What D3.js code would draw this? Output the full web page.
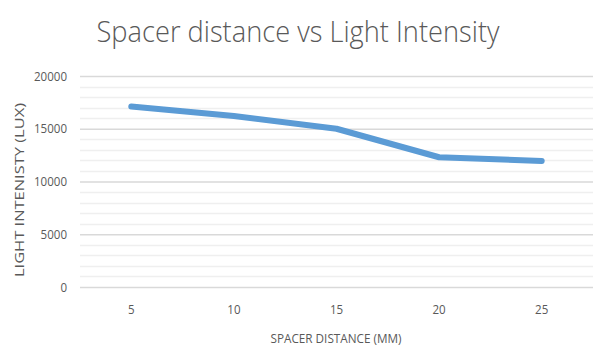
<!DOCTYPE html>
<html>
<head>
<meta charset="utf-8">
<script src="https://cdn.jsdelivr.net/npm/d3@7"></script>
<style>
  html, body { margin: 0; padding: 0; background: #fff; }
  svg { display: block; }
</style>
</head>
<body>
<svg id="chart" width="595" height="349"></svg>
<script>
const categories = ["5", "10", "15", "20", "25"];
const intensity = [17100, 16200, 15000, 12300, 11950];
const yTicks = [0, 5000, 10000, 15000, 20000];
const yMinorTicks = d3.range(0, 20001, 1000);
const titleText = "Spacer distance vs Light Intensity";
const xTitleText = "SPACER DISTANCE (MM)";
const yTitleText = "LIGHT INTENISTY (LUX)";

const svg = d3.select("#chart");
const W = 595, H = 349;
const m = { left: 80, right: 2, top: 76, bottom: 62 };

const x = d3.scaleBand().domain(categories).range([m.left, W - m.right]);
const y = d3.scaleLinear().domain([0, 20000]).range([H - m.bottom, m.top]);

const textColor = "#595959";
const font = "'Open Sans', sans-serif";

// minor gridlines
svg.append("g").selectAll("line").data(yMinorTicks.filter(d => d % 5000 !== 0)).join("line")
  .attr("x1", m.left).attr("x2", W - m.right)
  .attr("y1", d => Math.round(y(d)) + 0.5).attr("y2", d => Math.round(y(d)) + 0.5)
  .attr("stroke", "#efefef").attr("stroke-width", 1.5);

// major gridlines via axis
const yAxis = d3.axisLeft(y).tickValues(yTicks).tickFormat(d3.format("d"))
  .tickSize(-(W - m.left - m.right)).tickPadding(13);
const gy = svg.append("g").attr("transform", `translate(${m.left},0)`).call(yAxis);
gy.select(".domain").remove();
gy.selectAll(".tick line").attr("stroke", "#d9d9d9").attr("stroke-width", 1.5);
gy.selectAll(".tick text").attr("fill", textColor).style("font-family", font).style("font-size", "13px")
  .attr("textLength", d => String(d).length * 6.6).attr("lengthAdjust", "spacingAndGlyphs");

// x axis labels
const xAxis = d3.axisBottom(x).tickSize(0).tickPadding(18);
const gx = svg.append("g").attr("transform", `translate(0,${H - m.bottom})`).call(xAxis);
gx.select(".domain").remove();
gx.selectAll(".tick text").attr("fill", textColor).style("font-family", font).style("font-size", "13px")
  .attr("textLength", d => String(d).length * 6.6).attr("lengthAdjust", "spacingAndGlyphs");

// line
const line = d3.line()
  .x((d, i) => x(categories[i]) + x.bandwidth() / 2)
  .y(d => y(d));
svg.append("path").datum(intensity)
  .attr("d", line)
  .attr("fill", "none")
  .attr("stroke", "#5b9bd5")
  .attr("stroke-width", 6)
  .attr("stroke-linejoin", "round")
  .attr("stroke-linecap", "round");

// title
svg.append("text")
  .attr("x", 298).attr("y", 42)
  .attr("text-anchor", "middle")
  .attr("fill", textColor)
  .attr("textLength", 403).attr("lengthAdjust", "spacingAndGlyphs")
  .style("font-family", "'Open Sans', sans-serif").style("font-weight", 300)
  .style("font-size", "30px")
  .text(titleText);

// x title
svg.append("text")
  .attr("x", 336).attr("y", 343)
  .attr("text-anchor", "middle")
  .attr("fill", textColor)
  .attr("textLength", 131).attr("lengthAdjust", "spacingAndGlyphs")
  .style("font-family", font).style("font-size", "12px")
  .text(xTitleText);

// y title
svg.append("text")
  .attr("transform", "translate(24,190) rotate(-90)")
  .attr("text-anchor", "middle")
  .attr("fill", textColor)
  .attr("textLength", 174).attr("lengthAdjust", "spacingAndGlyphs")
  .style("font-family", font).style("font-size", "12px")
  .text(yTitleText);
</script>
</body>
</html>
